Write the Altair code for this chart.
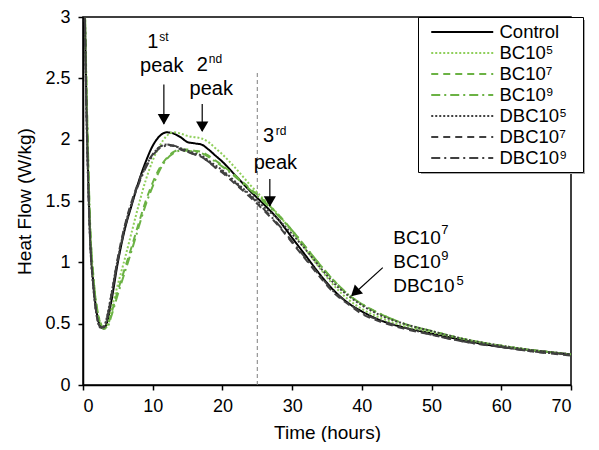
import altair as alt
import pandas as pd

FONT = "Liberation Sans"

T = [0.1, 0.5, 1, 1.5, 2, 2.5, 3, 3.5, 4, 5, 6, 7, 8, 9, 10, 11, 12, 13, 14, 15,
     16, 17, 18, 19, 20, 22, 24, 26, 28, 30, 32, 34, 36, 38, 40, 43, 46, 50, 55, 60, 65, 70]

CONTROL = [3.6, 2.3, 1.25, 0.82, 0.58, 0.48, 0.46, 0.52, 0.66, 1.0, 1.27, 1.47, 1.66, 1.82, 1.95, 2.03,
           2.06, 2.05, 2.02, 1.98, 1.97, 1.96, 1.92, 1.87, 1.82, 1.7, 1.58, 1.47, 1.35, 1.2, 1.05, 0.9,
           0.77, 0.67, 0.6, 0.52, 0.47, 0.42, 0.36, 0.31, 0.28, 0.25]
BC105 = [3.6, 2.4, 1.3, 0.86, 0.61, 0.5, 0.46, 0.49, 0.6, 0.82, 1.03, 1.25, 1.47, 1.67, 1.83, 1.95,
         2.03, 2.06, 2.05, 2.03, 2.02, 2.01, 1.98, 1.93, 1.88, 1.76, 1.63, 1.51, 1.39, 1.25, 1.1, 0.95,
         0.81, 0.7, 0.62, 0.54, 0.48, 0.43, 0.37, 0.32, 0.28, 0.25]
BC107 = [3.6, 2.4, 1.32, 0.87, 0.62, 0.5, 0.46, 0.48, 0.57, 0.77, 0.95, 1.13, 1.32, 1.5, 1.65, 1.77,
         1.85, 1.9, 1.92, 1.92, 1.91, 1.9, 1.87, 1.83, 1.79, 1.7, 1.6, 1.5, 1.39, 1.26, 1.12, 0.98,
         0.85, 0.74, 0.66, 0.57, 0.5, 0.44, 0.37, 0.32, 0.28, 0.25]
BC109 = [3.6, 2.45, 1.35, 0.88, 0.63, 0.51, 0.46, 0.47, 0.55, 0.74, 0.92, 1.1, 1.29, 1.47, 1.62, 1.75,
         1.84, 1.89, 1.91, 1.91, 1.9, 1.89, 1.86, 1.82, 1.78, 1.69, 1.59, 1.49, 1.38, 1.26, 1.12, 0.98,
         0.85, 0.74, 0.66, 0.57, 0.5, 0.44, 0.37, 0.32, 0.28, 0.25]
DBC105 = [3.6, 2.2, 1.2, 0.78, 0.55, 0.47, 0.48, 0.57, 0.72, 1.03, 1.29, 1.49, 1.65, 1.78, 1.88, 1.94,
          1.96, 1.95, 1.93, 1.91, 1.89, 1.87, 1.83, 1.79, 1.75, 1.65, 1.55, 1.45, 1.35, 1.23, 1.1, 0.96,
          0.83, 0.73, 0.65, 0.56, 0.5, 0.44, 0.37, 0.32, 0.28, 0.25]
DBC107 = [3.6, 2.25, 1.22, 0.8, 0.56, 0.47, 0.47, 0.55, 0.7, 1.04, 1.3, 1.5, 1.66, 1.79, 1.88, 1.94,
          1.96, 1.95, 1.92, 1.9, 1.88, 1.86, 1.82, 1.77, 1.73, 1.63, 1.53, 1.42, 1.3, 1.16, 1.02, 0.88,
          0.75, 0.66, 0.58, 0.51, 0.46, 0.41, 0.35, 0.31, 0.27, 0.24]
DBC109 = [3.6, 2.25, 1.22, 0.8, 0.56, 0.47, 0.47, 0.56, 0.71, 1.02, 1.28, 1.48, 1.64, 1.77, 1.87, 1.93,
          1.95, 1.95, 1.93, 1.9, 1.88, 1.86, 1.82, 1.78, 1.74, 1.64, 1.54, 1.43, 1.31, 1.17, 1.03, 0.89,
          0.76, 0.67, 0.59, 0.52, 0.47, 0.41, 0.35, 0.31, 0.27, 0.25]

SERIES = ["Control", "BC10⁵", "BC10⁷", "BC10⁹", "DBC10⁵", "DBC10⁷", "DBC10⁹"]
SERIES_VALUES = [CONTROL, BC105, BC107, BC109, DBC105, DBC107, DBC109]
COLORS = ["#000000", "#8FCF5A", "#6BB244", "#6BB244", "#404040", "#404040", "#404040"]
DASHES = [[1, 0], [2, 2], [7, 5], [9, 4, 2, 4], [2, 2], [7, 5], [9, 4, 2, 4]]

rows = []
for name, vals in zip(SERIES, SERIES_VALUES):
    for t, v in zip(T, vals):
        rows.append({"t": t, "v": v, "s": name})
df = pd.DataFrame(rows)

# annotations (data coordinates)
ANN_TEXT = ["1", "peak", "2", "peak", "3", "peak"]
ANN_X = [10.0, 11.3, 17.1, 18.4, 26.6, 27.6]
ANN_Y = [2.80, 2.60, 2.61, 2.41, 2.03, 1.81]
SUP_TEXT = ["st", "nd", "rd"]
SUP_X = [11.6, 19.0, 28.4]
SUP_Y = [2.84, 2.66, 2.07]
LAB_TEXT = ["BC10", "BC10", "DBC10"]
LAB_X = [44.5, 44.5, 44.5]
LAB_Y = [1.20, 1.00, 0.81]
LSUP_TEXT = ["7", "9", "5"]
LSUP_X = [51.9, 51.9, 54.1]
LSUP_Y = [1.26, 1.05, 0.85]
ARR_X = [11.6, 17.1, 26.8, 43.0]
ARR_Y = [2.45, 2.29, 1.68, 0.957]
ARR_X2 = [11.6, 17.1, 26.8, 38.6]
ARR_Y2 = [2.13, 2.07, 1.46, 0.73]
HEAD_X = [11.6, 17.1, 26.8, 39.2]
HEAD_Y = [2.18, 2.12, 1.51, 0.763]
HEAD_ANGLE = [180, 180, 180, 228]
VLINE_X = [25]
VLINE_TOP = [2.55]

x_scale = alt.Scale(domain=[0, 70], nice=False)
y_scale = alt.Scale(domain=[0, 3], nice=False)

legend = alt.Legend(
    title=".", titleOrient="right", titleOpacity=0, titleFontSize=8, titlePadding=9,
    orient="none", legendX=335, legendY=0,
    symbolType="M-0.18,0H6.18", symbolSize=380, symbolStrokeWidth=2,
    labelFont=FONT, labelFontSize=18.5, labelColor="black", labelOffset=55.5,
    fillColor="white", strokeColor="black", padding=4, rowPadding=0,
)

lines = alt.Chart(df).mark_line(strokeWidth=2, clip=True, interpolate="monotone").encode(
    x=alt.X("t:Q", scale=x_scale,
            axis=alt.Axis(values=list(range(0, 71, 5)), title="Time (hours)",
                          labelPadding=7, titlePadding=8)),
    y=alt.Y("v:Q", scale=y_scale,
            axis=alt.Axis(values=[0, 0.5, 1, 1.5, 2, 2.5, 3], format="~g", title="Heat Flow (W/kg)",
                          labelPadding=8, titlePadding=10)),
    color=alt.Color("s:N", scale=alt.Scale(domain=SERIES, range=COLORS), sort=SERIES, legend=legend),
    strokeDash=alt.StrokeDash("s:N", scale=alt.Scale(domain=SERIES, range=DASHES), sort=SERIES, legend=legend),
)

# legend drop shadow (decoration, pixel placement)
shadow = alt.Chart(pd.DataFrame({"k": [0]})).mark_rect(color="#A6A6A6", clip=False).encode(
    x=alt.value(338), x2=alt.value(502), y=alt.value(3), y2=alt.value(157)
)

vline = alt.Chart(pd.DataFrame({"x": VLINE_X, "y": [0], "y2": VLINE_TOP})).mark_rule(
    color="#7F7F7F", strokeWidth=1, strokeDash=[4, 3]
).encode(x=alt.X("x:Q", scale=x_scale), y=alt.Y("y:Q", scale=y_scale), y2="y2:Q")

arrows = alt.Chart(pd.DataFrame({"x": ARR_X, "y": ARR_Y, "x2": ARR_X2, "y2": ARR_Y2})).mark_rule(
    color="black", strokeWidth=1.2
).encode(x=alt.X("x:Q", scale=x_scale), y=alt.Y("y:Q", scale=y_scale), x2="x2:Q", y2="y2:Q")

heads = alt.Chart(pd.DataFrame({"x": HEAD_X, "y": HEAD_Y, "a": HEAD_ANGLE})).mark_point(
    shape="triangle", filled=True, color="black", opacity=1, size=150
).encode(x=alt.X("x:Q", scale=x_scale), y=alt.Y("y:Q", scale=y_scale), angle=alt.Angle("a:Q", scale=None))

ann = alt.Chart(pd.DataFrame({"x": ANN_X, "y": ANN_Y, "txt": ANN_TEXT})).mark_text(
    font=FONT, fontSize=20, color="black", baseline="middle", align="center"
).encode(x=alt.X("x:Q", scale=x_scale), y=alt.Y("y:Q", scale=y_scale), text="txt:N")

sup = alt.Chart(pd.DataFrame({"x": SUP_X, "y": SUP_Y, "txt": SUP_TEXT})).mark_text(
    font=FONT, fontSize=12, color="black", baseline="middle", align="center"
).encode(x=alt.X("x:Q", scale=x_scale), y=alt.Y("y:Q", scale=y_scale), text="txt:N")

lab = alt.Chart(pd.DataFrame({"x": LAB_X, "y": LAB_Y, "txt": LAB_TEXT})).mark_text(
    font=FONT, fontSize=19, color="black", baseline="middle", align="left"
).encode(x=alt.X("x:Q", scale=x_scale), y=alt.Y("y:Q", scale=y_scale), text="txt:N")

lsup = alt.Chart(pd.DataFrame({"x": LSUP_X, "y": LSUP_Y, "txt": LSUP_TEXT})).mark_text(
    font=FONT, fontSize=13, color="black", baseline="middle", align="center"
).encode(x=alt.X("x:Q", scale=x_scale), y=alt.Y("y:Q", scale=y_scale), text="txt:N")

chart = alt.layer(vline, lines, arrows, heads, ann, sup, lab, lsup, shadow).properties(
    width=488, height=368,
    autosize=alt.AutoSizeParams(type="none"),
    padding={"left": 75, "top": 9, "right": 20, "bottom": 57},
).configure_view(stroke="black", strokeWidth=1.5).configure_axis(
    grid=False, domainColor="black", domainWidth=1.5, tickColor="black", tickWidth=1.5, tickSize=5,
    labelFont=FONT, labelFontSize=18, labelColor="black", titleFont=FONT, titleFontSize=19,
    titleFontWeight="normal", titleColor="black",
)

chart.save("out.html", embed_options={"renderer": "svg", "actions": False})
